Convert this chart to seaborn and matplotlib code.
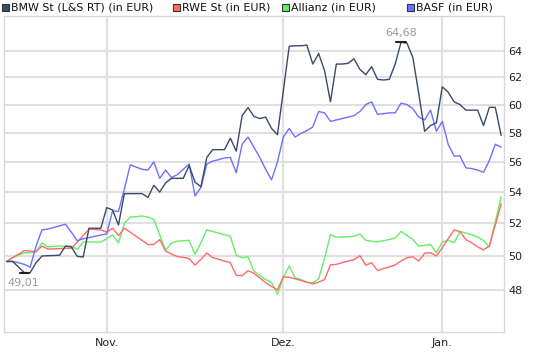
import numpy as np
import pandas as pd
import matplotlib
matplotlib.use("Agg")
import matplotlib.pyplot as plt
import matplotlib.ticker as mticker
from matplotlib.patches import Rectangle
import seaborn as sns

# relative performance, all series rebased to the BMW price (daily points)
bmw = [49.67, 49.68, 49.35, 49.01, 49.01, 49.6, 50.0, 50.02, 50.03, 50.05,
       50.6, 50.55, 49.98, 49.94, 51.7, 51.7, 51.7, 53.0, 52.85, 51.9,
       53.9, 53.9, 53.9, 53.9, 53.65, 54.45, 54.0, 54.6, 54.9, 54.9,
       54.9, 55.75, 54.65, 54.35, 56.3, 56.83, 56.83, 56.83, 57.62, 56.73,
       59.2, 59.78, 59.15, 59.0, 59.1, 58.3, 57.86, 61.0, 64.36, 64.4,
       64.4, 64.45, 63.0, 63.8, 62.5, 60.2, 63.0, 63.0, 63.05, 63.4,
       62.6, 62.2, 62.8, 61.85, 61.8, 61.85, 63.0, 64.68, 64.6, 63.5,
       60.8, 58.1, 58.5, 58.7, 61.3, 60.9, 60.2, 60.0, 59.6, 59.6,
       59.6, 58.5, 59.8, 59.8, 57.8]
rwe = [49.67, 49.9, 50.1, 50.33, 50.3, 50.27, 50.6, 50.42, 50.43, 50.45,
       50.47, 50.47, 50.85, 51.25, 51.65, 51.62, 51.6, 51.45, 51.7, 51.25,
       51.7, 51.45, 51.2, 50.95, 50.7, 50.7, 51.0, 50.3, 50.12, 49.97,
       49.92, 49.85, 49.45, 49.8, 50.18, 49.9, 49.8, 49.7, 49.6, 48.85,
       48.83, 49.13, 48.97, 48.7, 48.42, 48.2, 48.0, 48.77, 48.73, 48.65,
       48.55, 48.45, 48.35, 48.45, 48.6, 49.47, 49.5, 49.6, 49.7, 49.78,
       50.02, 49.45, 49.6, 49.13, 49.25, 49.35, 49.47, 49.7, 49.9, 49.95,
       49.7, 50.17, 50.2, 50.0, 50.5, 51.05, 51.6, 51.5, 51.0, 50.8,
       50.55, 50.37, 50.63, 51.9, 53.25]
allianz = [49.67, 49.9, 50.05, 50.2, 50.2, 50.25, 50.8, 50.55, 50.58, 50.6,
           50.6, 50.6, 50.4, 50.85, 50.85, 50.85, 50.85, 51.05, 51.3, 50.8,
           52.0, 52.4, 52.43, 52.47, 52.4, 52.25, 51.3, 50.35, 50.78, 50.9,
           50.93, 50.95, 50.1, 50.8, 51.6, 51.5, 51.4, 51.3, 51.2, 50.05,
           49.9, 49.95, 49.1, 48.85, 48.6, 48.44, 47.75, 48.73, 49.4, 48.7,
           48.6, 48.45, 48.4, 48.65, 49.85, 51.3, 51.15, 51.17, 51.18, 51.2,
           51.35, 50.95, 50.9, 50.85, 50.93, 51.0, 51.1, 51.5, 51.25, 51.0,
           50.6, 50.65, 50.7, 50.2, 50.85, 50.95, 50.8, 51.5, 51.4, 51.3,
           51.15, 50.95, 50.55, 52.1, 53.7]
basf = [49.67, 49.67, 49.6, 49.5, 49.33, 50.6, 51.6, 51.65, 51.75, 51.85,
        51.95, 51.45, 50.93, 51.05, 51.12, 51.2, 51.28, 51.35, 52.8, 52.75,
        54.2, 55.8, 55.65, 55.5, 55.45, 56.0, 54.9, 55.45, 54.95, 55.15,
        55.5, 55.86, 53.75, 54.3, 55.85, 56.05, 56.15, 56.27, 56.3, 55.27,
        57.2, 57.7, 57.0, 56.3, 55.5, 54.8, 56.0, 57.7, 58.3, 57.7,
        57.95, 58.15, 58.4, 59.5, 59.4, 58.8, 58.9, 59.0, 59.1, 59.2,
        59.5, 60.0, 60.2, 59.3, 59.35, 59.4, 59.4, 60.1, 60.0, 59.7,
        59.1, 58.9, 59.6, 58.1, 58.8, 57.2, 56.4, 56.4, 55.6, 55.55,
        55.45, 55.3, 56.1, 57.2, 57.0]

names = ["BMW St (L&S RT) (in EUR)", "RWE St (in EUR)", "Allianz (in EUR)", "BASF (in EUR)"]
colors = ["#3b4a6b", "#ff6a6a", "#66ee66", "#6f6fff"]
month_pos = [17, 47, 74]
month_labels = ["Nov.", "Dez.", "Jan."]
y_ticks = [48, 50, 52, 54, 56, 58, 60, 62, 64]

frames = []
for name, vals in zip(names, [bmw, rwe, allianz, basf]):
    frames.append(pd.DataFrame({"day": np.arange(len(vals)), "value": vals, "series": name}))
df = pd.concat(frames, ignore_index=True)

sns.set_style("white")
plt.rcParams["font.family"] = ["DejaVu Sans"]

fig = plt.figure(figsize=(5.47, 3.53), dpi=100)
ax = fig.add_axes([3.5 / 547, 1 - 332 / 353, 500.5 / 547, 316 / 353])

# draw BMW last so it sits on top like in the original
order = [names[2], names[1], names[3], names[0]]
for name in order:
    sns.lineplot(data=df[df["series"] == name], x="day", y="value",
                 color=colors[names.index(name)], linewidth=1.0, ax=ax, legend=False)

ax.set_yscale("log")
ax.set_ylim(45.63, 66.75)
ax.set_xlim(-0.53, 84.48)
ax.yaxis.tick_right()
ax.set_yticks(y_ticks)
ax.yaxis.set_major_formatter(mticker.FormatStrFormatter("%d"))
ax.yaxis.set_minor_locator(mticker.NullLocator())
ax.set_xticks(month_pos)
ax.set_xticklabels(month_labels)
ax.tick_params(length=0, labelsize=8, colors="#222222", pad=4)
ax.tick_params(axis="y", pad=3)
ax.set_xlabel("")
ax.set_ylabel("")
ax.grid(True, color="#e0e0e0", linewidth=1.5)
ax.set_axisbelow(True)
for sp in ax.spines.values():
    sp.set_color("#d8d8d8")
    sp.set_linewidth(1.0)

# high / low markers
hi = int(np.argmax(bmw))
lo = int(np.argmin(bmw))
ax.plot([hi - 0.8, hi + 0.8], [bmw[hi], bmw[hi]], color="#222222", linewidth=1.5)
ax.plot([lo - 0.8, lo + 0.8], [bmw[lo], bmw[lo]], color="#222222", linewidth=1.5)
ax.annotate(f"{bmw[hi]:.2f}".replace(".", ","), (hi, bmw[hi]), xytext=(0, 3),
            textcoords="offset points", ha="center", va="bottom", fontsize=8, color="#999999")
ax.annotate(f"{bmw[lo]:.2f}".replace(".", ","), (lo, bmw[lo]), xytext=(-1, -4),
            textcoords="offset points", ha="center", va="top", fontsize=8, color="#999999",
            bbox=dict(facecolor="white", edgecolor="none", pad=0.5))

# legend row above the plot
leg_x = [2, 173, 282, 407]
for x0, name, c in zip(leg_x, names, colors):
    fig.patches.append(Rectangle((x0 / 547, 1 - 10.7 / 353), 6.5 / 547, 6.5 / 353,
                                 transform=fig.transFigure, facecolor=c,
                                 edgecolor="#333333", linewidth=0.8))
    fig.text((x0 + 9) / 547, 1 - 7.5 / 353, name, fontsize=7.9, color="#111111",
             va="center", ha="left")

fig.savefig("out.png", dpi=100)
